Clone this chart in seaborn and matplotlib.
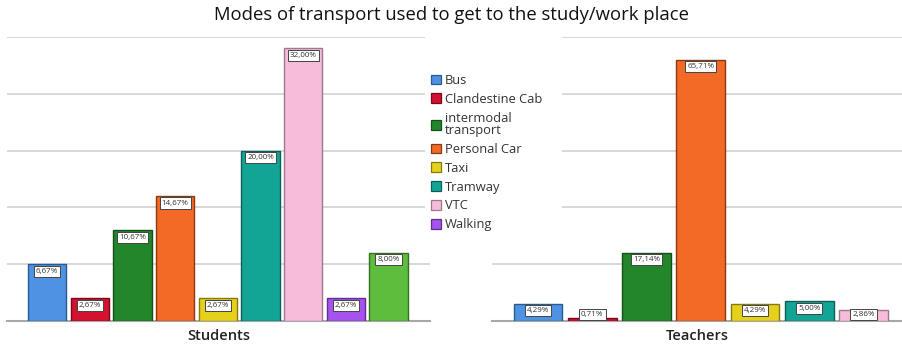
import numpy as np
import pandas as pd
import seaborn as sns
import matplotlib.pyplot as plt
from matplotlib.patches import Patch, Rectangle

# ---- data ---------------------------------------------------------------
modes = ["Bus", "Clandestine Cab", "intermodal\ntransport", "Personal Car",
         "Taxi", "Tramway", "VTC", "Walking", "Other"]
students_pct = [6.67, 2.67, 10.67, 14.67, 2.67, 20.00, 32.00, 2.67, 8.00]
teachers_modes = ["Bus", "Clandestine Cab", "intermodal\ntransport", "Personal Car",
                  "Taxi", "Tramway", "VTC"]
teachers_pct = [4.29, 0.71, 17.14, 65.71, 4.29, 5.00, 2.86]
students_n = 75
teachers_n = 140
legend_modes = modes[:8]

title = "Modes of transport used to get to the study/work place"

# ---- styling ------------------------------------------------------------
fill = {"Bus": "#4d92e3", "Clandestine Cab": "#d2122e",
        "intermodal\ntransport": "#23862a", "Personal Car": "#f26a26",
        "Taxi": "#e5d11b", "Tramway": "#12a595", "VTC": "#f8bcdb",
        "Walking": "#a552ee", "Other": "#5ebd3c"}
edge = {"Bus": "#2d5a8e", "Clandestine Cab": "#7a0a1a",
        "intermodal\ntransport": "#174f1b", "Personal Car": "#8a3a12",
        "Taxi": "#857a10", "Tramway": "#0b5f56", "VTC": "#9a7a8c",
        "Walking": "#5f2f8a", "Other": "#357022"}

sns.set_theme(style="white")
plt.rcParams["font.family"] = ["Open Sans", "DejaVu Sans"]

W, H = 903, 349
fig = plt.figure(figsize=(W / 100, H / 100), dpi=100)
fig.patch.set_facecolor("white")


def fig_box(x0, y0, x1, y1):
    """Pixel box (top-left origin) -> figure fraction rect."""
    return [x0 / W, 1 - y1 / H, (x1 - x0) / W, (y1 - y0) / H]


def panel(ax, cats, pct, n, step, xlim, xlabel):
    df = pd.DataFrame({"mode": cats, "pct": pct})
    sns.barplot(data=df, x="mode", y="pct", hue="mode", order=cats,
                hue_order=cats, palette=[fill[c] for c in cats],
                width=0.9, legend=False, ax=ax, saturation=1, zorder=3)
    for cont, c in zip(ax.containers, cats):
        for bar in cont:
            bar.set_edgecolor(edge[c])
            bar.set_linewidth(1.0)
    unit = 100.0 / n
    top = step * unit * int(np.ceil(max(pct) / (step * unit)))
    ax.set_ylim(0, top)
    ax.set_xlim(*xlim)
    ax.set_yticks(np.arange(0, top + 1e-6, step * unit))
    ax.yaxis.grid(True, color="#d6d6d6", linewidth=1.3, zorder=0)
    ax.set_axisbelow(True)
    ax.set_xticks([])
    ax.set_yticklabels([])
    ax.tick_params(left=False, bottom=False)
    for s in ("top", "right", "left"):
        ax.spines[s].set_visible(False)
    ax.spines["bottom"].set_color("#a8a8a8")
    ax.spines["bottom"].set_linewidth(1.5)
    ax.set_xlabel(xlabel, fontsize=10.5, fontweight="semibold",
                  color="#222222", labelpad=6)
    ax.set_ylabel("")

    # value boxes just under each bar top (display y grows upward)
    to_px = ax.transData
    base_px = to_px.transform((0, 0))[1]
    for i, v in enumerate(pct):
        top_px = to_px.transform((i, v))[1]
        y_px = max(top_px - 7.0, base_px + 6.5)
        y_data = to_px.inverted().transform((0, y_px))[1]
        ax.text(i, y_data, f"{v:.2f}%".replace(".", ","), ha="center",
                va="center", fontsize=5.8, color="#333333", zorder=5,
                bbox=dict(boxstyle="square,pad=0.25", facecolor="white",
                          edgecolor="#444444", linewidth=0.7))


ax1 = fig.add_axes(fig_box(7, 37, 430, 321))
ax2 = fig.add_axes(fig_box(492, 37, 903, 321))

panel(ax1, modes, students_pct, students_n, 5, (-0.94, 8.97), "Students")
panel(ax2, teachers_modes, teachers_pct, teachers_n, 20, (-0.85, 6.73), "Teachers")

# white backing behind the legend
fig.patches.append(Rectangle((425 / W, 1 - 240 / H), (562 - 425) / W, (240 - 28) / H,
                             transform=fig.transFigure, facecolor="white",
                             edgecolor="none", zorder=1))

handles = [Patch(facecolor=fill[m], edgecolor=edge[m], linewidth=0.9) for m in legend_modes]
leg = fig.legend(handles, legend_modes, loc="upper left",
                 bbox_to_anchor=(431 / W, 1 - 74 / H), frameon=False,
                 fontsize=9.3, handlelength=0.8, handleheight=0.8,
                 handletextpad=0.3, labelspacing=0.45, borderpad=0,
                 borderaxespad=0)
for t in leg.get_texts():
    t.set_color("#333333")
    t.set_linespacing(0.95)
leg.set_zorder(5)

fig.text(0.5, 1 - 15 / H, title, ha="center", va="center",
         fontsize=13.3, color="#111111")

fig.savefig("out.png", dpi=100, facecolor="white")
